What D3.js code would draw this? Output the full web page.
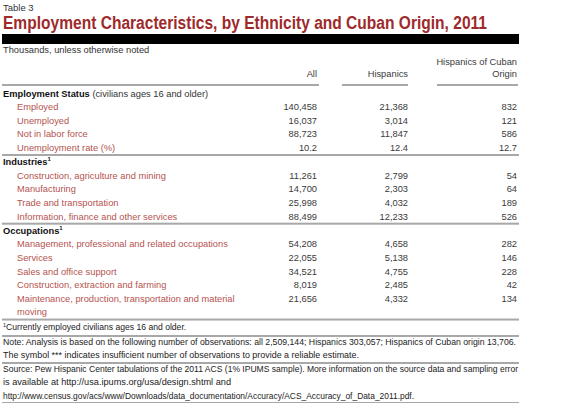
<!DOCTYPE html><html><head><meta charset="utf-8">
<script src="https://cdn.jsdelivr.net/npm/d3@7"></script>
<style>body{margin:0;background:#fff}text{font-family:"Liberation Sans",Arial,sans-serif}</style></head><body>
<svg id="c" width="566" height="403"></svg>
<script>
const columns = ["All","Hispanics","Hispanics of Cuban Origin"];
const sections = ["Employment Status","Industries","Occupations"];
const employmentLabels = ["Employed","Unemployed","Not in labor force","Unemployment rate (%)"];
const employmentAll = ["140,458","16,037","88,723","10.2"];
const employmentHisp = ["21,368","3,014","11,847","12.4"];
const employmentCuban = ["832","121","586","12.7"];
const industryLabels = ["Construction, agriculture and mining","Manufacturing","Trade and transportation","Information, finance and other services"];
const industryAll = ["11,261","14,700","25,998","88,499"];
const industryHisp = ["2,799","2,303","4,032","12,233"];
const industryCuban = ["54","64","189","526"];
const occLabels = ["Management, professional and related occupations","Services","Sales and office support","Construction, extraction and farming","Maintenance, production, transportation and material|moving"];
const occAll = ["54,208","22,055","34,521","8,019","21,656"];
const occHisp = ["4,658","5,138","4,755","2,485","4,332"];
const occCuban = ["282","146","228","42","134"];

const svg = d3.select("#c");
const red="#9e2a2b", lab="#b5534f", num="#3a3a3a", gray="#a8a8a8";
svg.append("text").attr("x",3).attr("y",11).attr("font-size",9.5).attr("fill","#333").text("Table 3");
svg.append("text").attr("x",3).attr("y",29).attr("font-size",17.5).attr("font-weight","bold").attr("fill",red)
  .attr("font-family","DejaVu Sans").attr("textLength",484).attr("lengthAdjust","spacingAndGlyphs")
  .text("Employment Characteristics, by Ethnicity and Cuban Origin, 2011");
svg.append("rect").attr("x",2).attr("y",34).attr("width",517).attr("height",10).attr("fill","#000");
const fs=9.3;
function t(x,y,s,o={}){const e=svg.append("text").attr("x",x).attr("y",y).attr("font-size",o.fs||fs).attr("fill",o.fill||num).attr("text-anchor",o.anchor||"start").text(s);if(o.bold)e.attr("font-weight","bold");if(o.tl)e.attr("textLength",o.tl).attr("lengthAdjust","spacingAndGlyphs");return e;}
t(3,53,"Thousands, unless otherwise noted",{fill:"#333"});
const colX = d3.scaleOrdinal().domain(columns).range([317,408,517]);
t(colX(columns[0]),77,columns[0],{anchor:"end"});
t(colX(columns[1]),77,columns[1],{anchor:"end"});
t(colX(columns[2]),65,"Hispanics of Cuban",{anchor:"end"});
t(colX(columns[2]),77,"Origin",{anchor:"end"});
function hline(x1,x2,y){svg.append("rect").attr("x",x1).attr("y",y).attr("width",x2-x1).attr("height",2).attr("fill",gray);}
hline(2,319,84);hline(342,408,84);hline(437,518,84);

const y = d3.scaleLinear().domain([0,1]).range([96.5,110.1]);
let row=0;
function section(name,extra,labels,a,h,c,sep){
  const g=t(3,y(row),name,{bold:true,fill:"#111"});
  if(extra){g.append("tspan").attr("font-weight","normal").attr("fill","#333").text(" "+extra);}
  else{g.append("tspan").attr("font-size",6).attr("dy",-4).text("1");}
  row++;
  labels.forEach((l,i)=>{
    const parts=l.split("|");
    t(17,y(row),parts[0],{fill:lab});
    t(colX(columns[0]),y(row),a[i],{anchor:"end"});
    t(colX(columns[1]),y(row),h[i],{anchor:"end"});
    t(colX(columns[2]),y(row),c[i],{anchor:"end"});
    row++;
    if(parts[1]){t(17,y(row),parts[1],{fill:lab});row++;}
  });
  hline(2,519,y(row)-10.5);
  row+=sep;
}
section(sections[0],"(civilians ages 16 and older)",employmentLabels,employmentAll,employmentHisp,employmentCuban,0.05);
section(sections[1],null,industryLabels,industryAll,industryHisp,industryCuban,0.05);
section(sections[2],null,occLabels,occAll,occHisp,occCuban,0);
const fsm=8.6;
const f=t(3,330,"",{fs:fsm,fill:"#222"});f.append("tspan").attr("font-size",5.5).attr("dy",-3).text("1");f.append("tspan").attr("dy",3).text("Currently employed civilians ages 16 and older.");
hline(2,519,335);
t(3,345,"Note: Analysis is based on the following number of observations: all 2,509,144; Hispanics 303,057; Hispanics of Cuban origin 13,706.",{fs:fsm,fill:"#222",tl:513});
t(3,358,"The symbol *** indicates insufficient number of observations to provide a reliable estimate.",{fs:fsm,fill:"#222",tl:356});
hline(2,519,362);
t(3,372,"Source: Pew Hispanic Center tabulations of the 2011 ACS (1% IPUMS sample). More information on the source data and sampling error",{fs:fsm,fill:"#222",tl:515});
t(3,385,"is available at http://usa.ipums.org/usa/design.shtml and",{fs:fsm,fill:"#222",tl:228});
t(3,399,"http://www.census.gov/acs/www/Downloads/data_documentation/Accuracy/ACS_Accuracy_of_Data_2011.pdf.",{fs:fsm,fill:"#222",tl:411});
hline(2,519,402);
</script></body></html>
